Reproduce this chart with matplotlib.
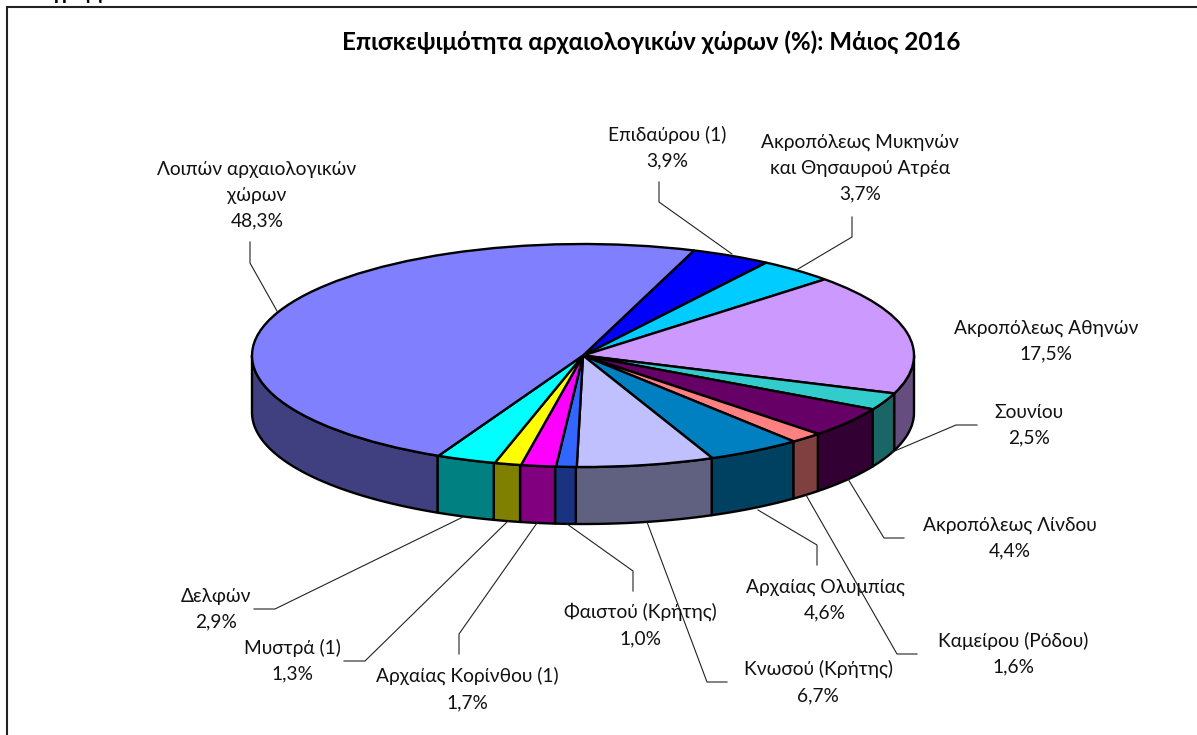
import numpy as np
import matplotlib
matplotlib.use("Agg")
import matplotlib.pyplot as plt

plt.rcParams['font.family'] = ['Lato', 'Open Sans', 'DejaVu Sans']

W, H = 1197, 735
title = "Επισκεψιμότητα αρχαιολογικών χώρων (%): Μάιος 2016"
names = ["Επιδαύρου (1)", "Ακροπόλεως Μυκηνών\nκαι Θησαυρού Ατρέα", "Ακροπόλεως Αθηνών",
         "Σουνίου", "Ακροπόλεως Λίνδου", "Καμείρου (Ρόδου)", "Αρχαίας Ολυμπίας",
         "Κνωσού (Κρήτης)", "Φαιστού (Κρήτης)", "Αρχαίας Κορίνθου (1)", "Μυστρά (1)",
         "Δελφών", "Λοιπών αρχαιολογικών\nχώρων"]
values = [3.9, 3.7, 17.5, 2.5, 4.4, 1.6, 4.6, 6.7, 1.0, 1.7, 1.3, 2.9, 48.3]
colors = ["#0000FF", "#00CCFF", "#CC99FF", "#33CCCC", "#660066", "#FF8080", "#0080C0",
          "#C0C0FF", "#3366FF", "#FF00FF", "#FFFF00", "#00FFFF", "#8080FF"]

# layout (pixels)
CX, CY, RX, RY, DEPTH = 583, 355.5, 331, 111.5, 57
START = 70.4
label_pos = [(667, 148), (860, 168), (1046, 341), (1029, 425), (1010, 538), (1013, 654),
             (825, 600), (818, 682), (640, 625), (467, 689), (292, 661), (216, 609), (257, 195)]
leaders = [
    [(659, 182), (659, 202), (732, 254)], [(852, 217), (852, 237), (798, 269)],
    None,
    [(977, 425), (956, 425), (890, 453)], [(904, 538), (884, 538), (848, 479)],
    [(917, 654), (897, 654), (806, 495)], [(817, 565), (817, 545), (758, 510)],
    [(727, 682), (707, 682), (647, 522)], [(633, 591), (633, 571), (567, 524)],
    [(459, 654), (459, 634), (537, 523)], [(344, 661), (365, 661), (508, 521)],
    [(254, 609), (275, 609), (463, 517)], [(250, 242), (250, 263), (277, 311)],
]

fig = plt.figure(figsize=(W / 100, H / 100), dpi=100, facecolor="white")
ax = fig.add_axes([0, 0, 1, 1])


def darken(c):
    return tuple(0.5 * v for v in matplotlib.colors.to_rgb(c))


# side walls of the disc, from the shares themselves
v = np.array(values, float)
edges = START - np.concatenate([[0], np.cumsum(v)]) * 3.6
depth = DEPTH / RY
for a0, a1, c in zip(edges[:-1], edges[1:], colors):
    lo, hi = a1, a0
    for shift in (0, -360, 360):
        l, h = max(lo + shift, 180), min(hi + shift, 360)
        if h > l:
            t = np.radians(np.linspace(l, h, 60))
            xs = np.cos(t)
            ys = np.sin(t)
            ax.fill(np.r_[xs, xs[::-1]], np.r_[ys, ys[::-1] - depth],
                    facecolor=darken(c), edgecolor="black", linewidth=1.7, zorder=1,
                    joinstyle="round")

wedges, _ = ax.pie(values, startangle=START, counterclock=False, colors=colors, radius=1,
                   wedgeprops=dict(edgecolor="black", linewidth=1.7))
for w in wedges:
    w.set_zorder(2)
ax.set_aspect("auto")
ax.set_xlim(-CX / RX, (W - CX) / RX)
ax.set_ylim((CY - H) / RY, CY / RY)
ax.axis("off")

# overlay in pixel coordinates for frame, leaders and labels
ov = fig.add_axes([0, 0, 1, 1], facecolor="none")
ov.set_xlim(0, W)
ov.set_ylim(H, 0)
ov.axis("off")
ov.plot([7, 7, W], [H, 7, 7], color="#222222", lw=1.5, solid_joinstyle="miter")
ov.text(20, -1, "Διάγραμμα", fontsize=14.5, fontweight="bold", color="black", ha="left", va="baseline")
ov.text(651, 42, title, fontsize=17.4, fontweight="bold", color="black", ha="center", va="center")
for name, val, (x, y), ld in zip(names, values, label_pos, leaders):
    ov.text(x, y, f"{name}\n{val:.1f}%".replace(".", ","), fontsize=13.8, color="#111111",
            ha="center", va="center", linespacing=1.62, multialignment="center")
    if ld:
        ov.plot(*zip(*ld), color="#222222", lw=0.8, zorder=3)

fig.savefig("out.png", dpi=100)
